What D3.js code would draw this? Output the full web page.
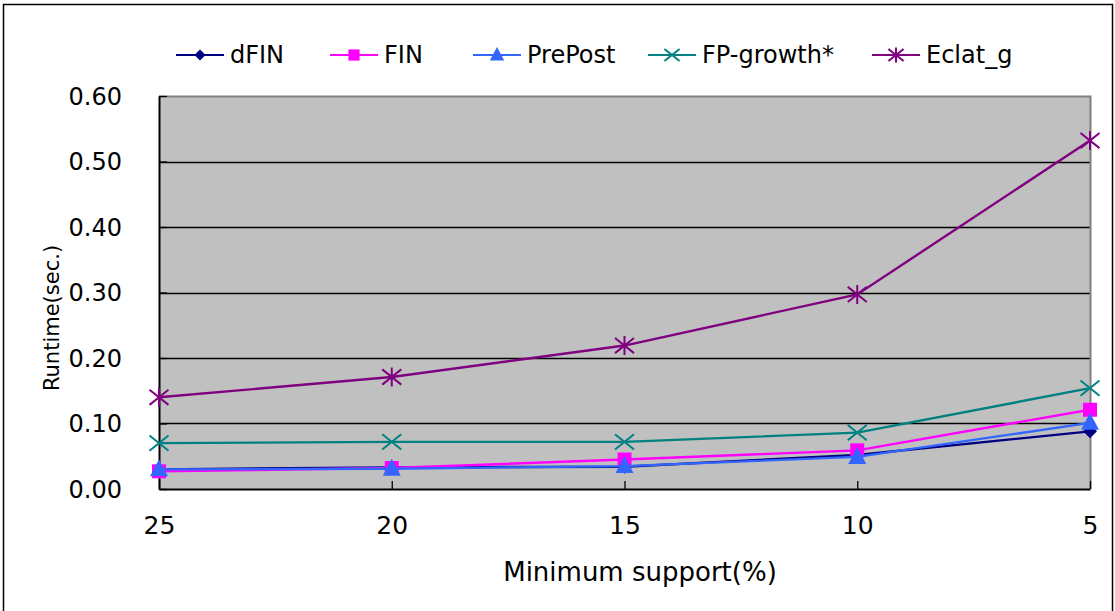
<!DOCTYPE html>
<html>
<head>
<meta charset="utf-8">
<script src="https://cdn.jsdelivr.net/npm/d3@7"></script>
<style>
  html, body { margin: 0; padding: 0; background: #fff; }
  svg text { font-family: "DejaVu Sans", Verdana, sans-serif; fill: #000; }
</style>
</head>
<body>
<svg id="chart" width="1115" height="611"></svg>
<script>
// Minimum support levels (x categories) and runtime per algorithm (seconds)
const supports = ["25", "20", "15", "10", "5"];
const dFIN     = [0.030, 0.033, 0.034, 0.052, 0.088];
const FIN      = [0.027, 0.032, 0.045, 0.059, 0.121];
const PrePost  = [0.030, 0.031, 0.035, 0.049, 0.101];
const FPgrowth = [0.070, 0.072, 0.072, 0.086, 0.154];
const Eclat_g  = [0.140, 0.171, 0.219, 0.297, 0.532];
const yTicks   = [0, 0.1, 0.2, 0.3, 0.4, 0.5, 0.6];

const series = [
  { name: "dFIN",        values: dFIN,     color: "#000080", marker: "diamond" },
  { name: "FIN",         values: FIN,      color: "#FF00FF", marker: "square" },
  { name: "PrePost",     values: PrePost,  color: "#3366FF", marker: "triangle" },
  { name: "FP-growth*",  values: FPgrowth, color: "#008080", marker: "x" },
  { name: "Eclat_g",     values: Eclat_g,  color: "#800080", marker: "star" }
];

const svg = d3.select("#chart");
const plot = { left: 159, right: 1090, top: 96, bottom: 489 };

// outer frame
svg.append("rect").attr("x", 3.5).attr("y", 4.5).attr("width", 1109).attr("height", 640)
  .attr("fill", "none").attr("stroke", "#000").attr("stroke-width", 1.5);

const x = d3.scalePoint().domain(supports).range([plot.left, plot.right]).padding(0);
const y = d3.scaleLinear().domain([0, 0.6]).range([plot.bottom, plot.top]);

// plot background
svg.append("rect").attr("x", plot.left).attr("y", plot.top)
  .attr("width", plot.right - plot.left).attr("height", plot.bottom - plot.top)
  .attr("fill", "#C0C0C0");

// horizontal gridlines
svg.append("g").selectAll("line").data(yTicks.filter(d => d > 0 && d < 0.6)).join("line")
  .attr("x1", plot.left).attr("x2", plot.right)
  .attr("y1", d => Math.round(y(d)) + 0.5).attr("y2", d => Math.round(y(d)) + 0.5)
  .attr("stroke", "#000").attr("stroke-width", 1.3);

// plot area border (top and right in gray)
svg.append("path")
  .attr("d", `M${plot.left},${plot.top + 0.5}H${plot.right + 0.5}V${plot.bottom}`)
  .attr("fill", "none").attr("stroke", "#808080").attr("stroke-width", 2);

// y axis: inside ticks, labels on the left
const yAxis = d3.axisLeft(y).tickValues(yTicks).tickFormat(d3.format(".2f"))
  .tickSizeInner(-8).tickSizeOuter(0).tickPadding(37);
const gy = svg.append("g").attr("transform", `translate(${plot.left},0)`).call(yAxis);
gy.select(".domain").attr("stroke", "#000").attr("stroke-width", 2);
gy.selectAll(".tick line").attr("stroke", "#000").attr("stroke-width", 1.3);
gy.selectAll("text").attr("font-size", 24).attr("dy", "0.35em");

// x axis: inside ticks pointing up
const xAxis = d3.axisBottom(x).tickSizeInner(-8).tickSizeOuter(0).tickPadding(27);
const gx = svg.append("g").attr("transform", `translate(0,${plot.bottom})`).call(xAxis);
gx.select(".domain").attr("stroke", "#000").attr("stroke-width", 2);
gx.selectAll(".tick line").attr("stroke", "#000").attr("stroke-width", 1.3);
gx.selectAll("text").attr("font-size", 25).attr("dy", "0.71em");

// axis titles
svg.append("text").attr("x", 640).attr("y", 581).attr("text-anchor", "middle")
  .attr("font-size", 26).text("Minimum support(%)");
svg.append("text").attr("transform", "translate(59,318) rotate(-90)")
  .attr("text-anchor", "middle").attr("font-size", 21).text("Runtime(sec.)");

// marker drawing helper
function drawMarker(g, type, color, cx, cy, s) {
  const k = s || 1;
  if (type === "diamond") {
    g.append("path").attr("d", `M${cx},${cy - 7 * k}L${cx + 7 * k},${cy}L${cx},${cy + 7 * k}L${cx - 7 * k},${cy}Z`)
      .attr("fill", color);
  } else if (type === "square") {
    g.append("rect").attr("x", cx - 7 * k).attr("y", cy - 7 * k)
      .attr("width", 14 * k).attr("height", 14 * k).attr("fill", color);
  } else if (type === "triangle") {
    g.append("path").attr("d", `M${cx},${cy - 10 * k}L${cx + 9 * k},${cy + 7 * k}L${cx - 9 * k},${cy + 7 * k}Z`)
      .attr("fill", color);
  } else if (type === "x") {
    const r = 9.5 * k;
    g.append("path").attr("d", `M${cx - r},${cy - r * 0.8}L${cx + r},${cy + r * 0.8}M${cx - r},${cy + r * 0.8}L${cx + r},${cy - r * 0.8}`)
      .attr("stroke", color).attr("stroke-width", 2).attr("fill", "none");
  } else if (type === "star") {
    const r = 9.5 * k;
    g.append("path").attr("d", `M${cx - r},${cy - r * 0.8}L${cx + r},${cy + r * 0.8}M${cx - r},${cy + r * 0.8}L${cx + r},${cy - r * 0.8}M${cx},${cy - r}V${cy + r}`)
      .attr("stroke", color).attr("stroke-width", 2).attr("fill", "none");
  }
}

// series lines and markers
const line = d3.line().x((d, i) => x(supports[i])).y(d => y(d));
series.forEach(s => {
  const g = svg.append("g");
  g.append("path").datum(s.values).attr("d", line)
    .attr("fill", "none").attr("stroke", s.color).attr("stroke-width", 2.4);
  s.values.forEach((v, i) => drawMarker(g, s.marker, s.color, x(supports[i]), y(v)));
});

// legend: text start positions, line and marker to the left of each
const legendTextX = [230, 384, 527, 702, 926];
const legend = svg.append("g");
series.forEach((s, i) => {
  const tx = legendTextX[i], ly = 55;
  legend.append("line").attr("x1", tx - 54).attr("x2", tx - 6).attr("y1", ly).attr("y2", ly)
    .attr("stroke", s.color).attr("stroke-width", 2.2);
  drawMarker(legend, s.marker, s.color, tx - 30, ly, s.marker === "x" || s.marker === "star" ? 0.8 : 0.8);
  legend.append("text").attr("x", tx).attr("y", ly).attr("dy", "0.35em")
    .attr("font-size", 24).text(s.name);
});
</script>
</body>
</html>
